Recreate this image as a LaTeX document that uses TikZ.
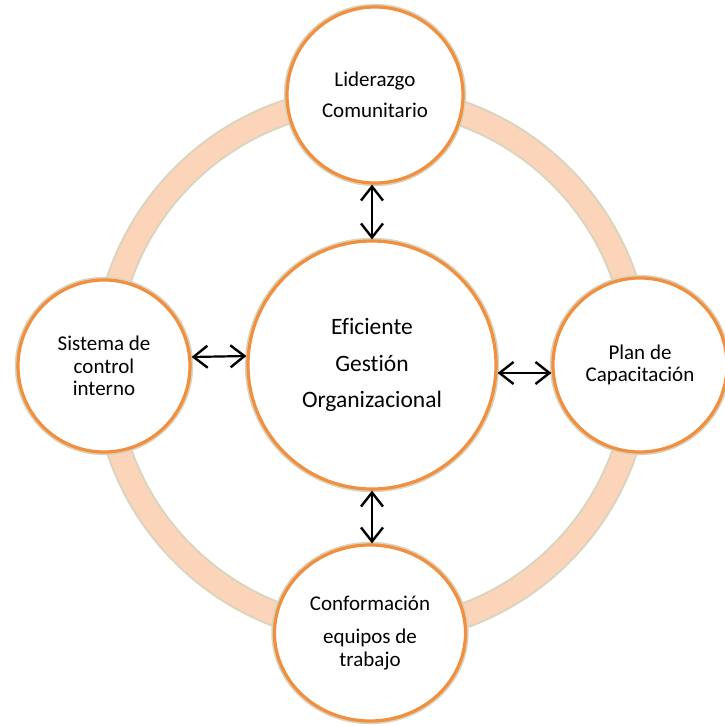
\documentclass[tikz,border=0pt]{standalone}
\usepackage{fontspec}
\setmainfont{Carlito}[Ligatures=NoCommon, RawFeature={-calt;-dlig}]
\usetikzlibrary{arrows.meta,shapes.geometric}
\definecolor{edgeorange}{RGB}{241,143,62}
\definecolor{edgebeige}{RGB}{216,212,190}
\definecolor{ringpeach}{RGB}{252,212,186}
\tikzset{
  bubble/.style={circle, draw=edgeorange, line width=3.2pt, fill=white, align=center,
    preaction={draw=edgebeige, line width=6.4pt},
    font=\fontsize{21}{22.5}\selectfont},
  barb/.tip={Straight Barb[length=14pt,width=22pt,line width=2.4pt]},
  biarrow/.style={barb-barb, line width=2.2pt}
}

\begin{document}
\begin{tikzpicture}[x=1pt,y=-1pt]
  \useasboundingbox (0,0) rectangle (725,726);
  % ring
  \coordinate (mid) at (372,365);
  \draw[edgebeige, line width=26pt] (mid) circle[radius=267];
  \draw[ringpeach, line width=22pt] (mid) circle[radius=267];
  % circles
  \node[bubble, minimum size=248pt, font=\fontsize{23.5}{36.5}\selectfont] (ctr) at (mid)
    {Eficiente\\Gestión\\Organizacional};
  \node[bubble, minimum size=176pt] (lid) at (375,95) {Liderazgo\\[8pt]Comunitario};
  \node[bubble, minimum size=172pt] (sis) at (104,366) {Sistema de\\control\\interno};
  \node[bubble, minimum size=174pt] (plan) at (640,365) {Plan de\\Capacitación};
  \node[bubble, ellipse, minimum width=191pt, minimum height=176pt] (conf) at (370,633)
    {Conformación\\[10.5pt]equipos de\\trabajo};
  % arrows
  \draw[biarrow] (lid.south -| ctr.center) -- (ctr.north);
  \draw[biarrow] ([yshift=9pt]sis.east) -- ([yshift=9pt]ctr.west);
  \draw[biarrow] ([yshift=-8pt]ctr.east) -- ([yshift=-8pt]plan.west);
  \draw[biarrow] (ctr.south) -- (conf.north -| ctr.center);
\end{tikzpicture}
\end{document}
